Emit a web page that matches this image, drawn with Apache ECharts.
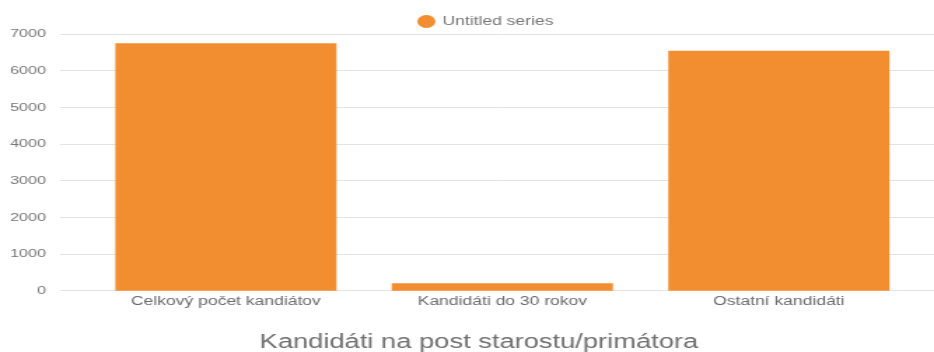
<!DOCTYPE html>
<html>
<head>
<meta charset="utf-8">
<script src="https://cdn.jsdelivr.net/npm/echarts@6/dist/echarts.min.js"></script>
<style>
  html, body { margin: 0; padding: 0; background: #fff; overflow: hidden; }
  /* chart laid out at a narrower width and widened horizontally */
  #chart { width: 667px; height: 352px; transform: scaleX(1.4003); transform-origin: 0 0; }
</style>
</head>
<body>
<div id="chart"></div>
<script>
const categories = ['Celkový počet kandiátov', 'Kandidáti do 30 rokov', 'Ostatní kandidáti'];
const seriesName = 'Untitled series';
const values = [6745, 200, 6545];
const yTicks = { min: 0, max: 7000, interval: 1000 };
const axisTitle = 'Kandidáti na post starostu/primátora';

const font = '"Liberation Sans", Arial, sans-serif';
const grey = '#757575';

const chart = echarts.init(document.getElementById('chart'), null, { renderer: 'canvas' });
chart.setOption({
  animation: false,
  textStyle: { fontFamily: font },
  title: {
    text: axisTitle,
    left: 337,
    textAlign: 'center',
    top: 328,
    textStyle: { fontFamily: font, fontSize: 19.5, fontWeight: 'normal', color: '#6f6f6f' }
  },
  legend: {
    data: [seriesName],
    left: 293,
    top: 10,
    icon: 'circle',
    itemWidth: 13,
    itemHeight: 13,
    itemGap: 5,
    textStyle: { fontFamily: font, fontSize: 12.5, color: grey }
  },
  grid: [
    { left: 62.6, right: 12.1, top: 34, bottom: 61.3 },
    { left: 42.8, right: 0, top: 34, bottom: 61.3 }
  ],
  xAxis: [
    {
      type: 'category', gridIndex: 0, data: categories,
      axisLine: { show: false }, axisTick: { show: false },
      axisLabel: { margin: 4, fontFamily: font, fontSize: 12.5, color: '#6a6a6a' }
    },
    { type: 'value', gridIndex: 1, show: false }
  ],
  yAxis: [
    { type: 'value', gridIndex: 0, min: yTicks.min, max: yTicks.max, interval: yTicks.interval, show: false },
    {
      type: 'value', gridIndex: 1, min: yTicks.min, max: yTicks.max, interval: yTicks.interval,
      axisLine: { show: false }, axisTick: { show: false },
      axisLabel: { margin: 10, fontFamily: font, fontSize: 11.5, color: grey, formatter: v => String(v) },
      splitLine: { lineStyle: { color: '#e3e3e3', width: 1 } }
    }
  ],
  series: [{
    name: seriesName,
    type: 'bar',
    xAxisIndex: 0,
    yAxisIndex: 0,
    data: values,
    barCategoryGap: '20%',
    itemStyle: { color: '#f38e30' }
  }]
});
</script>
</body>
</html>
